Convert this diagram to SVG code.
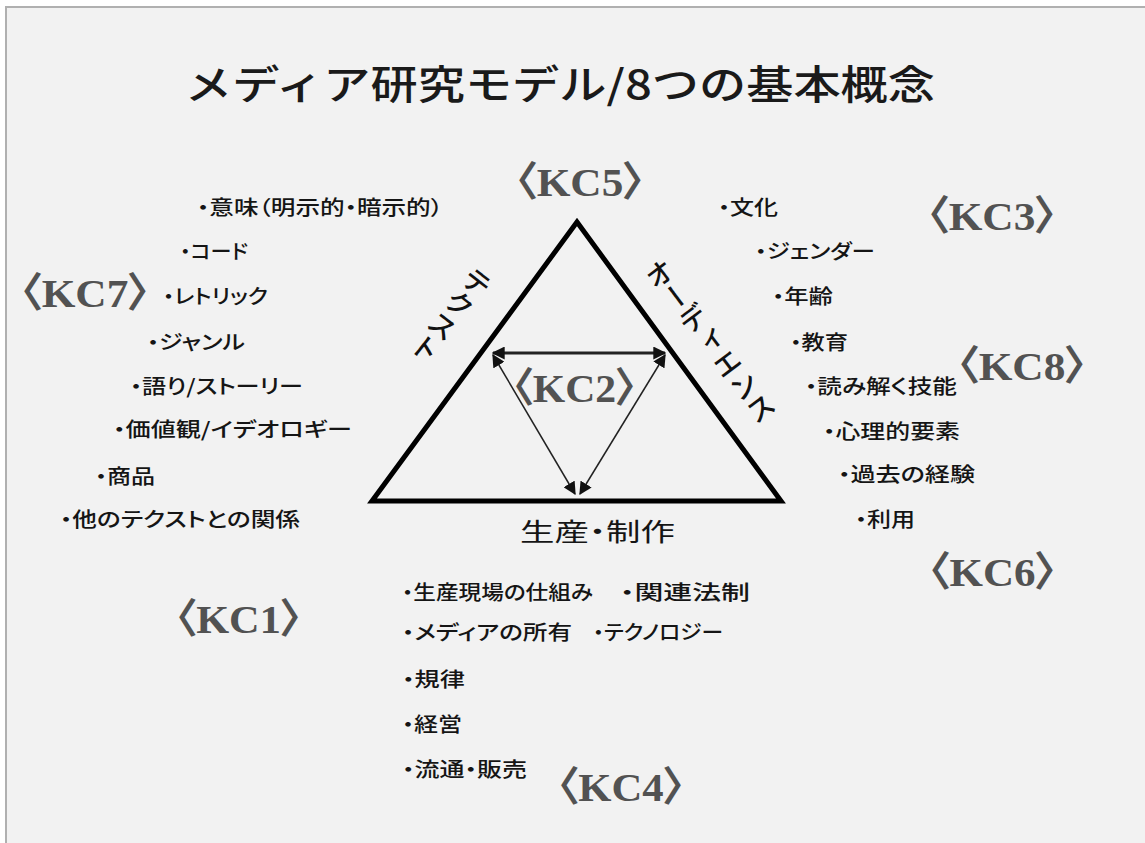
<svg xmlns="http://www.w3.org/2000/svg" width="1145" height="843" viewBox="0 0 1145 843">
<style>
.t{font-family:"Noto Sans CJK JP","Noto Sans",sans-serif;font-size:20px;font-weight:500;fill:#151515;font-feature-settings:"palt"}
.kc{font-family:"Liberation Serif","Noto Sans CJK JP",serif;font-size:41px;font-weight:bold;fill:#525252;font-feature-settings:"palt"}
.title{font-family:"Noto Sans CJK JP",sans-serif;font-size:40px;font-weight:500;fill:#1a1a1a}
.vt{font-family:"Noto Sans CJK JP",sans-serif;font-size:28px;font-weight:500;fill:#111;writing-mode:vertical-rl;text-anchor:middle}
.arr{stroke:#222;fill:none}
</style>
<defs>
<marker id="ah" viewBox="0 0 10 10" refX="9" refY="5" markerWidth="13" markerHeight="13" markerUnits="userSpaceOnUse" orient="auto-start-reverse">
<path d="M0,0 L10,5 L0,10 Z" fill="#111"/>
</marker>
</defs>
<rect x="0" y="0" width="1145" height="843" fill="#ffffff"/>
<rect x="6" y="7" width="1139" height="836" fill="#f2f2f2"/>
<path d="M6,843 V7 H1145" stroke="#b0b0b0" stroke-width="2" fill="none"/>

<g id="title"><text class="title" x="185" y="99" textLength="750" lengthAdjust="spacingAndGlyphs">メディア研究モデル/8つの基本概念</text></g>

<g id="triangle">
<polygon points="577,222 372,501 781,501" fill="none" stroke="#000" stroke-width="5" stroke-linejoin="miter"/>
</g>

<g id="connectors">
<line class="arr" x1="493" y1="353" x2="665" y2="353" stroke-width="3" marker-start="url(#ah)" marker-end="url(#ah)"/>
<line class="arr" x1="493" y1="355" x2="575" y2="494" stroke-width="1.5" marker-start="url(#ah)" marker-end="url(#ah)"/>
<line class="arr" x1="665" y1="355" x2="580" y2="494" stroke-width="1.5" marker-start="url(#ah)" marker-end="url(#ah)"/>
</g>

<g id="label-text"><text class="vt" transform="translate(451,315) rotate(38)" x="0" y="0">テクスト</text></g>
<g id="label-audience"><text class="vt" transform="translate(710,341) rotate(-37)" x="0" y="0">オーディエンス</text></g>
<g id="label-production"><text class="t" x="520" y="541" style="font-size:25px;font-weight:400" textLength="155" lengthAdjust="spacingAndGlyphs">生産・制作</text></g>

<g id="kc5"><text class="kc" x="515" y="196" textLength="130" lengthAdjust="spacingAndGlyphs">〈KC5〉</text></g>
<g id="kc3"><text class="kc" x="927" y="230" textLength="130" lengthAdjust="spacingAndGlyphs">〈KC3〉</text></g>
<g id="kc7"><text class="kc" x="20" y="307" textLength="130" lengthAdjust="spacingAndGlyphs">〈KC7〉</text></g>
<g id="kc8"><text class="kc" x="957" y="380" textLength="130" lengthAdjust="spacingAndGlyphs">〈KC8〉</text></g>
<g id="kc2"><text class="kc" x="512" y="402" textLength="125" lengthAdjust="spacingAndGlyphs">〈KC2〉</text></g>
<g id="kc6"><text class="kc" x="928" y="586" textLength="129" lengthAdjust="spacingAndGlyphs">〈KC6〉</text></g>
<g id="kc1"><text class="kc" x="175" y="633" textLength="127" lengthAdjust="spacingAndGlyphs">〈KC1〉</text></g>
<g id="kc4"><text class="kc" x="557" y="801" textLength="128" lengthAdjust="spacingAndGlyphs">〈KC4〉</text></g>

<g id="list-text">
<text class="t" x="197" y="215" textLength="246" lengthAdjust="spacingAndGlyphs">・意味（明示的・暗示的）</text>
<text class="t" x="180" y="259" textLength="68" lengthAdjust="spacingAndGlyphs">・コード</text>
<text class="t" x="163" y="304" textLength="105" lengthAdjust="spacingAndGlyphs">・レトリック</text>
<text class="t" x="147" y="350" textLength="98" lengthAdjust="spacingAndGlyphs">・ジャンル</text>
<text class="t" x="130" y="394" textLength="173" lengthAdjust="spacingAndGlyphs">・語り/ストーリー</text>
<text class="t" x="113" y="437" textLength="239" lengthAdjust="spacingAndGlyphs">・価値観/イデオロギー</text>
<text class="t" x="95" y="484" textLength="60" lengthAdjust="spacingAndGlyphs">・商品</text>
<text class="t" x="60" y="527" textLength="240" lengthAdjust="spacingAndGlyphs">・他のテクストとの関係</text>
</g>

<g id="list-audience">
<text class="t" x="718" y="215" textLength="60" lengthAdjust="spacingAndGlyphs">・文化</text>
<text class="t" x="755" y="259" textLength="120" lengthAdjust="spacingAndGlyphs">・ジェンダー</text>
<text class="t" x="772" y="304" textLength="61" lengthAdjust="spacingAndGlyphs">・年齢</text>
<text class="t" x="790" y="350" textLength="58" lengthAdjust="spacingAndGlyphs">・教育</text>
<text class="t" x="805" y="394" textLength="152" lengthAdjust="spacingAndGlyphs">・読み解く技能</text>
<text class="t" x="823" y="439" textLength="137" lengthAdjust="spacingAndGlyphs">・心理的要素</text>
<text class="t" x="838" y="482" textLength="137" lengthAdjust="spacingAndGlyphs">・過去の経験</text>
<text class="t" x="855" y="527" textLength="60" lengthAdjust="spacingAndGlyphs">・利用</text>
</g>

<g id="list-production">
<text class="t" x="402" y="600" textLength="191" lengthAdjust="spacingAndGlyphs">・生産現場の仕組み</text>
<text class="t" x="620" y="600" textLength="130" lengthAdjust="spacingAndGlyphs">・関連法制</text>
<text class="t" x="402" y="640" textLength="170" lengthAdjust="spacingAndGlyphs">・メディアの所有</text>
<text class="t" x="593" y="640" textLength="130" lengthAdjust="spacingAndGlyphs">・テクノロジー</text>
<text class="t" x="402" y="687" textLength="63" lengthAdjust="spacingAndGlyphs">・規律</text>
<text class="t" x="402" y="732" textLength="60" lengthAdjust="spacingAndGlyphs">・経営</text>
<text class="t" x="402" y="777" textLength="125" lengthAdjust="spacingAndGlyphs">・流通・販売</text>
</g>
</svg>
